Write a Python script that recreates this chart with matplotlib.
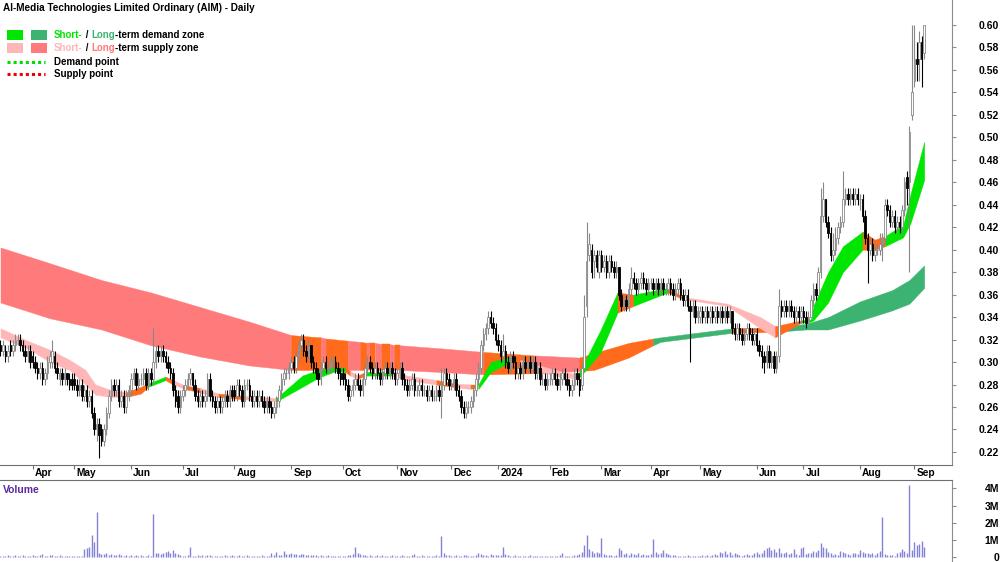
import numpy as np
import pandas as pd
import matplotlib
matplotlib.use('Agg')
import matplotlib.pyplot as plt
from matplotlib.patches import Rectangle
from matplotlib.lines import Line2D

plt.rcParams['font.family'] = ['Liberation Sans', 'DejaVu Sans']

title = 'AI-Media Technologies Limited Ordinary (AIM) - Daily'

# ASX trading days, 15 Mar 2023 .. 6 Sep 2024
holidays = ['2023-04-07', '2023-04-10', '2023-04-25', '2023-06-12', '2023-12-25', '2023-12-26',
            '2024-01-01', '2024-01-26', '2024-03-29', '2024-04-01', '2024-04-25', '2024-06-10']

# prices in cents, one line per month
opens = [
    31.5, 31, 31, 30.5, 31.5, 31, 31.5, 32, 32, 31.5, 31, 30.5, 31,
    30.5, 30, 29.5, 29, 29.5, 28.5, 29, 30, 30, 30.5, 29.5, 28.5, 29, 28.5, 29, 28.5, 28.5,
    28.5, 28, 27.5, 28, 27, 27.5, 26.5, 27, 25.5, 24, 24.5, 24, 23, 24, 25.5, 27, 28, 27.5, 28, 26.5, 27, 26, 27,
    27.5, 28.5, 29, 28, 28.5, 28.5, 29, 28, 29, 28.5, 30, 31, 30.5, 31, 30.5, 30, 29.5, 29, 27.5, 27, 26,
    27, 27.5, 28, 28.5, 29, 28, 27, 26.5, 27, 26.5, 27, 28.5, 27, 26.5, 26, 26.5, 26, 26.5, 27, 26.5, 27.5,
    27.5, 27, 28, 27.5, 26.5, 28, 28, 27, 26.5, 27, 26.5, 27, 26.5, 26, 26.5, 26, 25.5, 26, 26.5, 27.5, 28.5, 29, 29,
    29.5, 30, 29.5, 30.5, 31.5, 32, 31, 30.5, 31.5, 30, 29.5, 29, 28.5, 29.5, 30, 29.5, 29.5, 30, 30, 29.5, 29,
    29, 28.5, 28, 27, 27.5, 28, 28.5, 28, 27.5, 28.5, 29.5, 30, 29.5, 29, 29.5, 29, 28.5, 29, 29.5, 29, 29.5, 29,
    28.5, 29, 29.5, 28.5, 28, 27.5, 28, 28.5, 27.5, 27.5, 28, 27.5, 27.5, 27, 27.5, 27, 27, 27.5, 27, 28, 29, 28.5,
    28, 28, 28.5, 27.5, 27, 26, 25.5, 26, 26, 26.5, 27.5, 28.5, 29.5, 31.5, 32.5, 33, 34, 33.5, 33,
    32, 31.5, 30.5, 31, 30, 29.5, 30.5, 30, 29, 29.5, 29, 30, 29.5, 30, 29.5, 30, 29, 29.5, 28.5, 28.5, 28,
    28.5, 28.5, 29, 28.5, 28, 28.5, 29, 28.5, 28, 27.5, 28, 29, 28.5, 28, 29.5, 35, 39.5, 40, 39, 39.5, 38,
    39.5, 38.5, 39, 38, 39, 38.5, 38, 38.5, 36, 35, 35.5, 35, 36.5, 37.5, 37, 36.5, 37, 37.5, 37, 36.5,
    37, 37, 36.5, 37, 36.5, 37, 36.5, 36.5, 37, 36.5, 36, 36.5, 37, 36, 35.5, 36, 35, 34.5, 35, 34,
    34, 34.5, 34, 34.5, 34, 34.5, 34, 34.5, 34, 34.5, 34, 34.5, 34, 34.5, 33, 32.5, 33, 32.5, 32, 32.5, 33, 32.5, 32,
    32.5, 31.5, 31, 30.5, 30, 31, 30, 30.5, 29.5, 30.5, 35, 34.5, 35, 34.5, 35, 34.5, 34, 34.5, 34,
    34.5, 34, 33.5, 34, 35.5, 36.5, 36, 38, 43, 44.5, 42.5, 41.5, 39.5, 40, 41, 42, 42.5, 44.5, 45, 44.5, 45, 44.5, 45,
    44.5, 44.5, 43, 41, 40, 40.5, 39.5, 40, 40, 40.5, 41, 44, 43.5, 42.5, 43, 42, 42.5, 42, 43.5, 46.5, 46, 52,
    55, 57, 57, 58.5, 57.5,
]
highs = [
    32, 32, 31.5, 31.5, 32, 32, 32.5, 32.5, 32.5, 32, 31.5, 31.5, 31.5,
    31, 30.5, 30, 30, 30, 29.5, 30.5, 31, 32, 31, 30, 29.5, 29.5, 29.5, 29, 29, 29,
    29, 28.5, 28.5, 28.5, 28, 28, 27.5, 27.5, 26, 25, 25, 24.5, 24.5, 26, 27.5, 28.5, 28.5, 28.5, 28.5, 27.5, 27.5, 27.5, 28,
    29, 29.5, 29.5, 29, 29, 29.5, 29.5, 29.5, 29.5, 33, 31.5, 31.5, 31.5, 31.5, 31, 30.5, 30, 29.5, 28, 27.5, 27.5,
    28, 28.5, 29, 29.5, 29, 28.5, 27.5, 27.5, 27.5, 27.5, 29, 29, 27.5, 27, 27, 27, 27, 27.5, 27.5, 28, 28,
    28, 28.5, 28.5, 28, 28.5, 28.5, 28.5, 27.5, 27.5, 27.5, 27.5, 27.5, 27, 27, 27, 26.5, 26.5, 27, 28, 29, 29.5, 29.5, 30,
    30.5, 30.5, 31, 32, 32.5, 32.5, 31.5, 32, 31.5, 30.5, 30, 29.5, 30, 30.5, 30.5, 30, 30.5, 30.5, 30.5, 30, 29.5,
    29.5, 29, 28.5, 28, 28.5, 29, 29, 28.5, 29, 30, 30.5, 30.5, 30, 30, 30, 29.5, 29.5, 30, 30, 30, 30, 29.5,
    29.5, 30, 30, 29, 28.5, 28.5, 29, 29, 28, 28.5, 28.5, 28, 28, 28, 28, 27.5, 28, 28, 29.5, 29.5, 29.5, 29,
    28.5, 29, 29, 28, 27.5, 26.5, 26.5, 26.5, 27, 28, 29, 30, 32, 33, 33.5, 34.5, 34.5, 34, 33.5,
    32.5, 32, 32.5, 31.5, 30.5, 31, 31, 30.5, 30, 30, 30.5, 30.5, 30.5, 30.5, 30.5, 30.5, 30, 30, 29, 29, 29,
    29, 29.5, 29.5, 29, 29, 29.5, 29.5, 29, 28.5, 28.5, 29.5, 29.5, 29, 30, 36, 42.5, 41.5, 40.5, 40, 40, 40,
    40, 39.5, 39.5, 39.5, 39.5, 39, 39, 38.5, 36.5, 36, 36, 37, 38.5, 38, 37.5, 37.5, 38, 38, 37.5, 37.5,
    37.5, 37.5, 37.5, 37.5, 37.5, 37.5, 37, 37.5, 37.5, 37, 37, 37.5, 37.5, 36.5, 36.5, 36.5, 35.5, 35.5, 35.5, 35,
    35, 35, 35, 35, 35, 35, 35, 35, 35, 35, 35, 35, 35, 34.5, 33.5, 33.5, 33.5, 33, 33, 33.5, 33.5, 33, 33,
    33, 32, 31.5, 31, 31.5, 31.5, 31, 31, 31, 36.5, 35.5, 35.5, 35.5, 35.5, 35.5, 35, 35, 35, 35,
    35, 34.5, 34.5, 36, 37, 37, 38.5, 45.5, 46, 44.5, 43, 42, 41.5, 42, 42.5, 43, 47, 45.5, 45.5, 45.5, 45.5, 45.5, 45.5,
    45, 45, 43.5, 41.5, 41, 41, 40.5, 40.5, 41.5, 41.5, 44.5, 44.5, 44, 43.5, 43.5, 43, 43, 44, 46.5, 47, 51, 60,
    60, 58.5, 59.5, 59, 60,
]
lows = [
    30.5, 30.5, 30, 30, 30.5, 30.5, 31, 31.5, 31, 30.5, 30, 30, 29.5,
    29.5, 29, 28.5, 28.5, 28, 28, 28.5, 29.5, 29.5, 29, 28.5, 28, 28, 28, 28, 27.5, 27.5,
    27.5, 27, 27, 26.5, 26.5, 26, 26, 25, 23.5, 23, 21.5, 22.5, 22.5, 23.5, 25, 26.5, 27, 27, 26, 26, 25.5, 25.5, 26.5,
    27, 28, 27.5, 27.5, 28, 28, 27.5, 27.5, 28, 28, 29.5, 30, 30, 30, 29.5, 29, 28.5, 27, 26, 25.5, 25.5,
    26.5, 27, 27.5, 28, 27.5, 26.5, 26, 26, 26, 26, 26.5, 26.5, 26, 25.5, 25.5, 25.5, 25.5, 26, 26, 26, 26.5,
    26.5, 26.5, 27, 26, 26, 27.5, 26.5, 26, 26, 26, 26, 26, 25.5, 25.5, 25.5, 25, 25, 25.5, 26, 27, 28, 28.5, 28.5,
    29, 29, 29, 30, 31, 30.5, 30, 30, 29.5, 29, 28.5, 28, 28, 29, 29, 29, 29, 29.5, 29, 28.5, 28,
    28, 27.5, 26.5, 26.5, 27, 27.5, 27.5, 27, 27, 28, 29, 29, 28.5, 28.5, 28.5, 28, 28, 28.5, 28.5, 28.5, 28.5, 28,
    28, 28.5, 28, 27.5, 27, 27, 27.5, 27, 27, 27, 27, 27, 26.5, 26.5, 26.5, 26.5, 26.5, 26.5, 25, 27.5, 28, 27.5,
    27.5, 27.5, 27, 26.5, 25.5, 25, 25, 25.5, 25.5, 26, 27, 28, 29, 31, 32, 32.5, 33, 32.5, 31.5,
    31, 30, 30, 29.5, 29, 29, 29.5, 28.5, 28.5, 28.5, 28.5, 29, 29, 29, 29, 28.5, 28.5, 28, 28, 27.5, 27.5,
    28, 28, 28, 27.5, 27.5, 28, 28, 27.5, 27, 27, 27.5, 28, 27, 27.5, 29.5, 34, 39, 37.5, 37.5, 38, 37.5,
    38, 38, 37.5, 37.5, 38, 37.5, 37.5, 35.5, 34.5, 34.5, 34.5, 34.5, 36, 36.5, 36, 36, 36.5, 36.5, 36, 36,
    36.5, 36, 36, 36, 36, 36, 36, 36, 36, 35.5, 35.5, 36, 35.5, 35, 35, 34.5, 30, 34, 33.5, 33.5,
    33.5, 33.5, 33.5, 33.5, 33.5, 33.5, 33.5, 33.5, 33.5, 33.5, 33.5, 33.5, 33.5, 32.5, 32, 32, 32, 31.5, 31.5, 32, 32, 31.5, 31.5,
    31, 30.5, 29.5, 29, 29.5, 29.5, 29.5, 29, 29, 30, 34, 34, 34, 34, 34, 33.5, 33.5, 33.5, 33.5,
    33.5, 33, 33.5, 34, 35, 35.5, 36, 37.5, 42.5, 42, 41, 39, 39, 39.5, 40.5, 41.5, 42, 44, 44, 44, 44, 44, 44,
    43.5, 42.5, 40.5, 37, 39.5, 39, 39, 39.5, 39.5, 39, 40.5, 43, 42, 42, 41.5, 41.5, 41.5, 41.5, 43, 44, 38, 51.5,
    54.5, 55, 55, 54.5, 57,
]
closes = [
    31, 31.5, 30.5, 31, 31, 31.5, 32, 32, 31.5, 31, 30.5, 31, 30,
    30, 29.5, 29, 29.5, 28.5, 29, 30, 30.5, 31, 29.5, 29, 29, 28.5, 29, 28.5, 28, 28,
    28, 27.5, 28, 27, 27.5, 26.5, 27, 25.5, 24, 24.5, 23.5, 23, 24, 25.5, 27, 28, 27.5, 28, 26.5, 27, 26, 27, 27.5,
    28.5, 29, 28, 28.5, 28.5, 29, 28, 29, 28.5, 30, 31, 30.5, 31, 30.5, 30, 29.5, 29, 27.5, 26.5, 26, 27,
    27.5, 28, 28.5, 29, 28, 27, 26.5, 27, 26.5, 27, 28.5, 27, 26.5, 26, 26.5, 26, 26.5, 27, 26.5, 27.5, 27,
    27, 28, 27.5, 26.5, 28, 28, 27, 26.5, 27, 26.5, 27, 26.5, 26, 26.5, 26, 25.5, 26, 26.5, 27.5, 28.5, 29, 29, 29.5,
    30, 29.5, 30.5, 31.5, 32, 31, 30.5, 31.5, 30, 29.5, 29, 28.5, 29.5, 30, 29.5, 29.5, 30, 30, 29.5, 29, 28.5,
    28.5, 28, 27, 27.5, 28, 28.5, 28, 27.5, 28.5, 29.5, 30, 29.5, 29, 29.5, 29, 28.5, 29, 29.5, 29, 29.5, 29, 28.5,
    29, 29.5, 28.5, 28, 27.5, 28, 28.5, 27.5, 27.5, 28, 27.5, 27.5, 27, 27.5, 27, 27, 27.5, 27, 28, 29, 28.5, 28,
    28, 28.5, 27.5, 27, 26, 25.5, 26, 26, 26.5, 27.5, 28.5, 29.5, 31.5, 32.5, 33, 34, 33.5, 33, 32,
    31.5, 30.5, 31, 30, 29.5, 30.5, 30, 29, 29.5, 29, 30, 29.5, 30, 29.5, 30, 29, 29.5, 28.5, 28.5, 28, 28.5,
    28.5, 29, 28.5, 28, 28.5, 29, 28.5, 28, 27.5, 28, 29, 28.5, 27.5, 29.5, 34, 39, 40.5, 38, 39.5, 38.5, 39.5,
    38.5, 39, 38, 39, 38.5, 38, 38.5, 36, 35, 35.5, 35, 36.5, 37.5, 37, 36.5, 37, 37.5, 37, 36.5, 37,
    37, 36.5, 37, 36.5, 37, 36.5, 36.5, 37, 36.5, 36, 36.5, 37, 36, 35.5, 36, 35, 34.5, 35, 34, 34.5,
    34.5, 34, 34.5, 34, 34.5, 34, 34.5, 34, 34.5, 34, 34.5, 34, 34.5, 33, 32.5, 33, 32.5, 32, 32.5, 33, 32.5, 32, 32.5,
    31.5, 31, 30.5, 30, 31, 30, 30.5, 29.5, 30.5, 35, 34.5, 35, 34.5, 35, 34.5, 34, 34.5, 34, 34.5,
    34, 33.5, 34, 35.5, 36.5, 36, 38, 43, 44.5, 42.5, 41.5, 39.5, 40, 41, 42, 42.5, 44.5, 45, 44.5, 45, 44.5, 45, 44.5,
    44.5, 43, 41, 40, 40.5, 39.5, 40, 40, 40.5, 41, 44, 43.5, 42.5, 43, 42, 42.5, 42, 43.5, 46, 45.5, 50.5, 54,
    57, 56.5, 58.5, 57, 60,
]
# volume in thousands of shares
volumes = [
    40, 60, 30, 80, 50, 40, 120, 60, 30, 90, 50, 40, 70,
    120, 60, 40, 80, 150, 70, 50, 130, 90, 60, 40, 100, 70, 50, 30, 60, 40,
    60, 40, 70, 40, 480, 500, 550, 1300, 850, 2600, 200, 180, 150, 200, 100, 140, 90, 80, 150, 90, 60, 110, 70,
    80, 60, 120, 50, 90, 40, 70, 100, 60, 2500, 200, 250, 180, 220, 300, 350, 250, 400, 220, 150, 80,
    60, 40, 80, 600, 30, 50, 100, 60, 80, 40, 120, 90, 60, 50, 40, 70, 30, 80, 60, 50, 90,
    60, 40, 80, 50, 30, 90, 70, 40, 60, 50, 30, 80, 60, 40, 70, 250, 120, 300, 100, 80, 350, 180, 150,
    200, 170, 150, 120, 180, 140, 100, 90, 130, 110, 80, 70, 100, 60, 50, 90, 40, 70, 30, 60, 50,
    40, 60, 80, 90, 150, 600, 200, 180, 120, 90, 60, 80, 40, 50, 90, 70, 120, 40, 60, 30, 80, 50,
    70, 40, 120, 60, 50, 30, 80, 150, 60, 40, 90, 50, 70, 40, 30, 60, 90, 50, 1200, 200, 120, 80,
    60, 40, 90, 70, 50, 120, 80, 60, 40, 30, 90, 200, 150, 110, 80, 60, 180, 120, 90,
    80, 120, 550, 150, 90, 60, 40, 80, 50, 30, 60, 40, 70, 90, 40, 30, 50, 60, 70, 40, 30,
    40, 60, 30, 50, 80, 250, 60, 40, 30, 70, 80, 120, 150, 300, 700, 1300, 450, 350, 250, 300, 250,
    1080, 150, 100, 80, 120, 60, 90, 500, 400, 150, 200, 100, 250, 180, 120, 200, 80, 150, 100, 90,
    150, 1050, 300, 180, 250, 400, 200, 150, 120, 100, 80, 60, 40, 50, 70, 100, 40, 30, 60, 50,
    40, 80, 60, 120, 50, 90, 180, 100, 300, 200, 350, 150, 280, 120, 200, 150, 80, 60, 100, 150, 80, 120, 200,
    300, 150, 250, 400, 500, 600, 400, 450, 300, 500, 250, 200, 300, 150, 200, 450, 150, 100, 500,
    600, 150, 250, 200, 350, 300, 400, 800, 600, 500, 300, 200, 100, 150, 120, 350, 300, 200, 150, 100, 250, 200, 150,
    400, 300, 250, 200, 150, 250, 100, 200, 350, 2300, 150, 120, 80, 100, 60, 200, 300, 450, 350, 250, 4200, 400,
    850, 700, 750, 950, 550,
]

# long-term zone: trading-day index, top, bottom (cents), colour of following stretch
long_x = [0, 20, 41, 61, 81, 101, 118, 130, 132, 141, 146, 149, 150, 152, 155, 158, 160, 162,
          180, 196, 216, 235, 241, 255, 265, 268, 297, 315, 327, 336, 349, 362, 369, 375]
long_top = [40.2, 38.8, 37.3, 36.2, 34.9, 33.6, 32.4, 32.2, 32.1, 31.9, 31.8, 31.7, 31.7, 31.7, 31.6, 31.6, 31.5, 31.5,
            31.2, 30.9, 30.6, 30.4, 30.8, 31.7, 32.1, 32.2, 33.0, 33.1, 33.4, 34.0, 35.4, 36.4, 37.3, 38.6]
long_bot = [35.3, 33.9, 32.9, 31.5, 30.5, 29.7, 29.3, 29.3, 29.3, 29.3, 29.3, 29.3, 29.3, 29.3, 29.3, 29.3, 29.3, 29.3,
            29.1, 28.9, 29.0, 29.2, 29.3, 30.4, 31.5, 31.8, 32.6, 32.7, 32.9, 32.9, 33.7, 34.6, 35.2, 36.6]
long_col = ['R', 'R', 'R', 'R', 'R', 'R', 'O', 'R', 'O', 'R', 'O', 'R', 'O', 'R', 'O', 'R', 'O', 'R',
            'R', 'O', 'R', 'O', 'O', 'O', 'G', 'G', 'O', 'G', 'G', 'G', 'G', 'G', 'G', 'G']

# short-term zone
short_x = [0, 12, 20, 28, 34.5, 38.5, 45, 51, 57, 60, 67, 70, 75, 81, 88.5, 98, 112, 122.6, 129, 136,
           140, 142, 145, 148, 159, 165, 177, 184, 191, 194, 199, 204, 207, 211, 217, 227, 234.5, 243.5, 250.5, 257,
           271, 277, 295, 308.5, 314.5, 325, 329, 330, 336, 342, 350, 355, 359, 366.5, 369.5, 375]
short_top = [33.0, 31.8, 31.1, 30.2, 29.3, 28.0, 27.5, 27.3, 27.8, 28.1, 28.7, 28.4, 27.9, 27.7, 27.2, 27.0, 26.8, 28.8, 29.3, 29.5,
             29.5, 29.2, 28.8, 29.1, 29.2, 28.8, 28.4, 28.1, 28.0, 28.0, 30.0, 30.3, 30.4, 30.2, 29.8, 29.2, 28.9, 32.8, 36.2, 36.0,
             36.6, 35.8, 35.2, 34.0, 33.2, 33.7, 33.8, 35.0, 38.0, 40.3, 41.6, 40.9, 41.2, 42.2, 45.0, 49.6]
short_bot = [32.2, 31.1, 30.0, 29.3, 28.0, 27.1, 26.9, 26.9, 27.2, 27.8, 28.4, 28.0, 27.6, 27.3, 26.9, 26.7, 26.5, 27.8, 28.6, 29.2,
             29.1, 28.8, 28.5, 28.8, 28.8, 28.4, 28.0, 27.8, 27.6, 27.6, 29.1, 29.7, 29.9, 29.8, 29.3, 28.7, 28.5, 30.8, 34.4, 35.0,
             36.2, 35.6, 35.0, 33.0, 32.2, 33.5, 33.6, 33.7, 35.3, 38.0, 40.0, 40.0, 40.3, 41.1, 42.4, 46.2]
short_col = ['P', 'P', 'P', 'P', 'P', 'P', 'P', 'O', 'O', 'G', 'O', 'P', 'O', 'P', 'O', 'P', 'G', 'G', 'G', 'G',
             'O', 'P', 'O', 'G', 'P', 'P', 'O', 'P', 'O', 'G', 'G', 'G', 'O', 'P', 'P', 'P', 'G', 'G', 'O', 'G',
             'O', 'P', 'P', 'P', 'O', 'G', 'G', 'G', 'G', 'G', 'O', 'O', 'G', 'G', 'G', 'G']

C_GREEN = '#00e600'
C_LGREEN = '#3cb371'
C_PINK = '#ffb6b6'
C_RED = '#ff7b7b'
C_ORANGE = '#ff6a1c'
long_colors = {'R': C_RED, 'O': C_ORANGE, 'G': C_LGREEN}
short_colors = {'P': C_PINK, 'O': C_ORANGE, 'G': C_GREEN}

o = np.array(opens) / 100
h = np.array(highs) / 100
l = np.array(lows) / 100
c = np.array(closes) / 100
v = np.array(volumes) * 1000
n = len(c)
assert len(o) == n and len(h) == n and len(l) == n and len(v) == n

cbd = pd.offsets.CustomBusinessDay(holidays=holidays)
dates = pd.date_range('2023-03-15', periods=n, freq=cbd)
x = np.arange(n)

fig = plt.figure(figsize=(10, 5.62), dpi=100)
ax = fig.add_axes([0, 97 / 562, 0.952, 465 / 562])
axv = fig.add_axes([0, 0, 0.952, 82 / 562])


def draw_zone(xs, tops, bots, cols, cmap, z):
    # one polygon per run of the same colour, so no seams inside a run
    xs = np.asarray(xs, float)
    tops = np.asarray(tops) / 100
    bots = np.asarray(bots) / 100
    start = 0
    for i in range(1, len(xs)):
        if i == len(xs) - 1 or cols[i] != cols[start]:
            sl = slice(start, i + 1)
            col = cmap[cols[start]]
            ax.fill_between(xs[sl], bots[sl], tops[sl], facecolor=col, edgecolor=col,
                            lw=0.3, zorder=z)
            start = i


draw_zone(long_x, long_top, long_bot, long_col, long_colors, 1)
draw_zone(short_x, short_top, short_bot, short_col, short_colors, 2)

# candles
up = c >= o
ax.vlines(x[up], l[up], h[up], color='#888888', lw=0.8, zorder=3)
ax.vlines(x[~up], l[~up], h[~up], color='black', lw=0.8, zorder=3)
bot = np.minimum(o, c)
hgt = np.abs(c - o)
ax.bar(x[up], hgt[up], bottom=bot[up], width=0.62, color='white', edgecolor='#888888', lw=0.6, zorder=4)
ax.bar(x[~up], hgt[~up], bottom=bot[~up], width=0.62, color='black', edgecolor='black', lw=0.6, zorder=4)

xmin, xmax = -0.2, 386.3
ax.set_xlim(xmin, xmax)
ax.set_ylim(0.2084, 0.6222)

for s in ['top', 'left']:
    ax.spines[s].set_visible(False)
ax.spines['right'].set_color('#8c8c8c')
ax.spines['bottom'].set_color('#707070')
ax.yaxis.tick_right()
ax.set_yticks(np.round(np.arange(0.22, 0.605, 0.02), 2))
ax.set_yticklabels(['%.2f' % t for t in np.arange(0.22, 0.605, 0.02)], fontsize=7.5, fontweight='bold')
ax.tick_params(axis='y', length=3, color='#8c8c8c', pad=31)
for lab in ax.get_yticklabels():
    lab.set_ha('right')

# month ticks
mpos = [i for i in range(1, n) if dates[i].month != dates[i - 1].month]
ax.set_xticks(mpos)
ax.tick_params(axis='x', length=3, color='#707070', labelbottom=False)
for i in mpos:
    lab = '2024' if dates[i].month == 1 else dates[i].strftime('%b')
    ax.annotate(lab, xy=(i, 0), xycoords=('data', 'axes fraction'), xytext=(1.5, -2.2),
                textcoords='offset points', ha='left', va='top', fontsize=7.3, fontweight='bold',
                annotation_clip=False)

# volume
axv.vlines(x, 0, v, color='#8282d8', lw=1)
axv.set_xlim(xmin, xmax)
axv.set_ylim(-0.3e6, 4.49e6)
for s in ['left', 'bottom']:
    axv.spines[s].set_visible(False)
axv.spines['top'].set_color('#707070')
axv.spines['right'].set_color('#8c8c8c')
axv.set_xticks([])
axv.yaxis.tick_right()
axv.set_yticks([0, 1e6, 2e6, 3e6, 4e6])
axv.set_yticklabels(['0', '1M', '2M', '3M', '4M'], fontsize=7.5, fontweight='bold')
axv.tick_params(axis='y', length=3, color='#8c8c8c', pad=31)
for lab in axv.get_yticklabels():
    lab.set_ha('right')
fig.text(3 / 1000, 1 - 490 / 562, 'Volume', color='#5a2a9a', fontsize=7.5, fontweight='bold', va='center')

# title and legend
fig.text(3 / 1000, 1 - 8 / 562, title, fontsize=7.2, fontweight='bold', va='center')

renderer = fig.canvas.get_renderer()


def rich(px, py, parts):
    xx = px
    for s, col in parts:
        t = fig.text(xx / 1000, 1 - py / 562, s, color=col, fontsize=7.0, fontweight='bold',
                     va='center', ha='left')
        xx += t.get_window_extent(renderer).width


def box(px, py, col):
    fig.patches.append(Rectangle((px / 1000, 1 - (py + 10) / 562), 16 / 1000, 10 / 562,
                                 transform=fig.transFigure, color=col, lw=0))


box(7, 30, C_GREEN)
box(31, 30, C_LGREEN)
rich(54, 35, [('Short-', C_GREEN), (' / ', 'black'), ('Long', C_LGREEN), ('-term demand zone', 'black')])
box(7, 43, C_PINK)
box(31, 43, C_RED)
rich(54, 48, [('Short-', C_PINK), (' / ', 'black'), ('Long', C_RED), ('-term supply zone', 'black')])
fig.lines.append(Line2D([7 / 1000, 45 / 1000], [1 - 62 / 562] * 2, transform=fig.transFigure,
                        color='#00dd00', lw=2.2, linestyle=(0, (1, 1))))
fig.lines.append(Line2D([7 / 1000, 45 / 1000], [1 - 74 / 562] * 2, transform=fig.transFigure,
                        color='#ee0000', lw=2.2, linestyle=(0, (1, 1))))
rich(54, 62, [('Demand point', 'black')])
rich(54, 74, [('Supply point', 'black')])

fig.savefig('out.png', dpi=100)
